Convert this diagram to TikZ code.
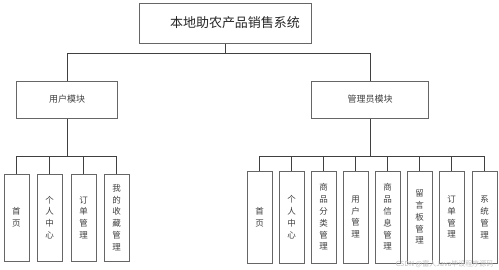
\documentclass[tikz,border=0pt]{standalone}
\usepackage{fontspec}
\setmainfont{Noto Sans CJK SC}
\newfontfamily\cjk{Noto Sans CJK SC}
\tikzset{
  box/.style={draw=black!60, line width=0.7pt, fill=white, inner sep=0pt, anchor=north west},
  leaf/.style={box, minimum width=25pt, align=center, font=\fontsize{8.5}{11.8}\selectfont, text=black!75},
  mid/.style={box, font=\fontsize{9}{10}\selectfont, text=black!75},
  conn/.style={draw=black!75, line width=0.8pt},
}
\begin{document}
\begin{tikzpicture}[x=1pt,y=-1pt]
\useasboundingbox (0,0) rectangle (499,270);
% top
\node[box, minimum width=172pt, minimum height=40pt] (top) at (139,3) {};
\node[font=\fontsize{13}{14}\selectfont, text=black!85] (toptxt) at (235,23) {本地助农产品销售系统};
% middle
\node[mid, minimum width=101pt, minimum height=37pt] (user) at (16,81) {};
\node[font=\fontsize{9}{10}\selectfont, text=black!75] (usertxt) at (67,99.5) {用户模块};
\node[mid, minimum width=117pt, minimum height=37pt] (admin) at (311,81) {};
\node[font=\fontsize{9}{10}\selectfont, text=black!75] (admintxt) at (370,99.5) {管理员模块};
\coordinate (j0) at (225,53);
\draw[conn] (top.south -| j0) -- (j0);
\draw[conn] (67,81) coordinate (ua) -- (67,53) coordinate (ul) -- (370,53) coordinate (ar) -- (370,81);
% left leaves
\foreach \n/\x/\t in {l1/4/首\\页, l2/37/个\\人\\中\\心, l3/71/订\\单\\管\\理, l4/104/我\\的\\收\\藏\\管\\理}{
  \node[leaf, minimum height=87pt] (\n) at (\x,174) {};
  \node[font=\fontsize{8.5}{11.8}\selectfont, text=black!75, align=center] (\n t) at (\x+12.5,217.5) {\t};
}
\coordinate (lj) at (67,156);
\draw[conn] (user.south -| lj) -- (lj);
\draw[conn] (l1.north) -- (l1.north |- lj) -- (l4.north |- lj) -- (l4.north);
\draw[conn] (l2.north) -- (l2.north |- lj);
\draw[conn] (l3.north) -- (l3.north |- lj);
% right leaves
\foreach \n/\x/\t in {r1/247/首\\页, r2/279/个\\人\\中\\心, r3/311/商\\品\\分\\类\\管\\理, r4/343/用\\户\\管\\理, r5/375/商\\品\\信\\息\\管\\理, r6/407/留\\言\\板\\管\\理, r7/439/订\\单\\管\\理, r8/472/系\\统\\管\\理}{
  \node[leaf, minimum height=92pt] (\n) at (\x,171) {};
  \node[font=\fontsize{8.5}{11.8}\selectfont, text=black!75, align=center] (\n t) at (\x+12.5,217) {\t};
}
\coordinate (rj) at (370,156);
\draw[conn] (admin.south -| rj) -- (rj);
\draw[conn] (r1.north) -- (r1.north |- rj) -- (r8.north |- rj) -- (r8.north);
\foreach \n in {r2,r3,r4,r5,r6,r7}{
  \draw[conn] (\n.north) -- (\n.north |- rj);
}
\node[font=\fontsize{7}{8}\selectfont, text=black!25, anchor=east] (wm) at (497,264) {CSDN @富人Java毕设程序源码};
\end{tikzpicture}
\end{document}
